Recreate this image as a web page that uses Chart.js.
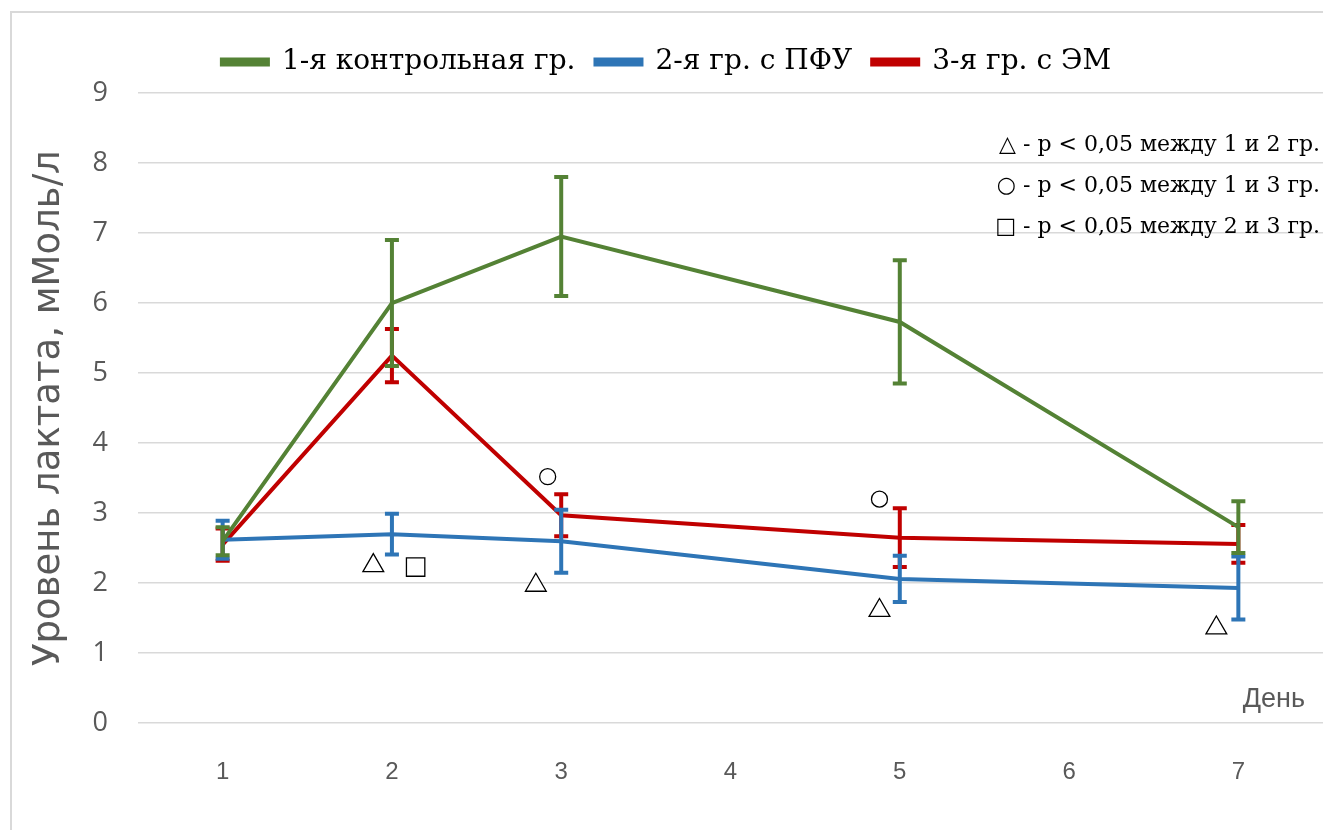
<!DOCTYPE html>
<html>
<head>
<meta charset="utf-8">
<script src="https://cdn.jsdelivr.net/npm/chart.js@4/dist/chart.umd.min.js"></script>
<style>
  html, body { margin: 0; background: #fff; overflow: hidden; }
  #wrap { width: 1323px; height: 830px; position: relative; }
</style>
</head>
<body>
<div id="wrap"><canvas id="chart"></canvas></div>
<script>
// days with measurements
const days = [1, 2, 3, 5, 7];

// mean lactate, mmol/l
const controlGroup = [2.6, 6.0, 6.95, 5.73, 2.8];
const pfuGroup = [2.62, 2.7, 2.6, 2.06, 1.93];
const emGroup = [2.55, 5.25, 2.97, 2.65, 2.56];

// error bar half-widths
const controlErr = [0.2, 0.9, 0.85, 0.88, 0.37];
const pfuErr = [0.27, 0.29, 0.45, 0.33, 0.45];
const emErr = [0.23, 0.38, 0.3, 0.42, 0.27];

const seriesNames = ['1-я контрольная гр.', '2-я гр. с ПФУ', '3-я гр. с ЭМ'];

// significance marks (x in days, y in mmol/l)
const triangleX = [1.89, 2.85, 4.88, 6.87];
const triangleY = [2.25, 1.97, 1.61, 1.36];
const circleX = [2.92, 4.88];
const circleY = [3.52, 3.2];
const squareX = [2.14];
const squareY = [2.23];

const notes = [
  '△ - p < 0,05 между 1 и 2 гр.',
  '○ - p < 0,05 между 1 и 3 гр.',
  '□ - p < 0,05 между 2 и 3 гр.'
];

const dayTicks = [1, 2, 3, 4, 5, 6, 7];

const toPoints = (xs, ys) => xs.map((x, i) => ({ x: x, y: ys[i] }));

const lineSet = (label, values, errs, color) => ({
  type: 'line',
  label: label,
  data: toPoints(days, values),
  errors: errs,
  borderColor: color,
  backgroundColor: color,
  borderWidth: 4,
  pointRadius: 0,
  tension: 0
});

const markSet = (xs, ys, style, radius) => ({
  type: 'scatter',
  label: 'mark',
  data: toPoints(xs, ys),
  pointStyle: style,
  pointRadius: radius,
  backgroundColor: '#ffffff',
  borderColor: '#000000',
  borderWidth: 1.3,
  showLine: false
});

// error bars drawn right after their own series
const errorBars = {
  id: 'errorBars',
  afterDatasetDraw(chart, args) {
    const ds = chart.data.datasets[args.index];
    if (!ds.errors) return;
    const { ctx, scales: { x, y } } = chart;
    ctx.save();
    ctx.strokeStyle = ds.borderColor;
    ctx.lineWidth = 4;
    ds.data.forEach((p, i) => {
      const px = x.getPixelForValue(p.x);
      const top = y.getPixelForValue(p.y + ds.errors[i]);
      const bot = y.getPixelForValue(p.y - ds.errors[i]);
      ctx.beginPath();
      ctx.moveTo(px, top); ctx.lineTo(px, bot);
      ctx.moveTo(px - 7, top); ctx.lineTo(px + 7, top);
      ctx.moveTo(px - 7, bot); ctx.lineTo(px + 7, bot);
      ctx.stroke();
    });
    ctx.restore();
  }
};

const frameAndText = {
  id: 'frameAndText',
  beforeDraw(chart) {
    const ctx = chart.ctx;
    ctx.save();
    ctx.fillStyle = '#ffffff';
    ctx.fillRect(0, 0, chart.width, chart.height);
    ctx.strokeStyle = '#d9d9d9';
    ctx.lineWidth = 2;
    ctx.strokeRect(11, 12, chart.width + 10, chart.height + 10);
    ctx.restore();
  },
  afterDraw(chart) {
    const { ctx, chartArea, scales: { y } } = chart;
    ctx.save();
    ctx.fillStyle = '#595959';
    ctx.font = '27px "Liberation Sans Narrow", "Liberation Sans", sans-serif';
    ctx.textAlign = 'right';
    ctx.textBaseline = 'middle';
    ctx.fillText('День', chartArea.right - 18, y.getPixelForValue(0) - 24);

    ctx.fillStyle = '#000000';
    ctx.font = '22px "DejaVu Serif", "Liberation Serif", serif';
    notes.forEach((t, i) => {
      ctx.fillText(t, chart.width - 3, chartArea.top + 52 + i * 41);
    });
    ctx.restore();
  }
};

const legendHeight = {
  id: 'legendHeight',
  beforeInit(chart) {
    const fit = chart.legend.fit;
    chart.legend.fit = function () {
      fit.bind(chart.legend)();
      this.height = 65;
    };
  }
};

new Chart(document.getElementById('chart'), {
  data: {
    datasets: [
      lineSet(seriesNames[0], controlGroup, controlErr, '#548235'),
      lineSet(seriesNames[1], pfuGroup, pfuErr, '#2e75b6'),
      lineSet(seriesNames[2], emGroup, emErr, '#c00000'),
      markSet(triangleX, triangleY, 'triangle', 12),
      markSet(circleX, circleY, 'circle', 8),
      markSet(squareX, squareY, 'rect', 13)
    ]
  },
  options: {
    responsive: true,
    maintainAspectRatio: false,
    animation: false,
    layout: {
      autoPadding: false,
      padding: { left: 10, top: 28, right: 0, bottom: 16 }
    },
    plugins: {
      tooltip: { enabled: false },
      legend: {
        position: 'top',
        labels: {
          filter: item => item.text !== 'mark',
          boxWidth: 46,
          boxHeight: 5,
          padding: 20,
          color: '#000000',
          font: { family: '"DejaVu Serif", "Liberation Serif", serif', size: 28 }
        }
      }
    },
    scales: {
      x: {
        type: 'linear',
        min: 0.5,
        max: 7.5,
        afterBuildTicks: axis => {
          axis.ticks = dayTicks.map(v => ({ value: v }));
        },
        grid: { display: false },
        border: { display: false },
        ticks: {
          padding: 27,
          color: '#595959',
          font: { family: '"Liberation Sans Narrow", "Liberation Sans", sans-serif', size: 24 }
        }
      },
      y: {
        min: 0,
        max: 9,
        afterFit: scale => { scale.width = 128; },
        grid: { color: '#d9d9d9', lineWidth: 1.5, drawTicks: false },
        border: { display: false },
        ticks: {
          stepSize: 1,
          padding: 30,
          color: '#595959',
          font: { family: '"Open Sans", "Liberation Sans", sans-serif', size: 27 }
        },
        title: {
          display: true,
          text: 'Уровень лактата, мМоль/л',
          color: '#595959',
          padding: { top: 17, bottom: 0 },
          font: { family: '"DejaVu Sans", "Open Sans", sans-serif', size: 37 }
        }
      }
    }
  },
  plugins: [errorBars, frameAndText, legendHeight]
});
</script>
</body>
</html>
